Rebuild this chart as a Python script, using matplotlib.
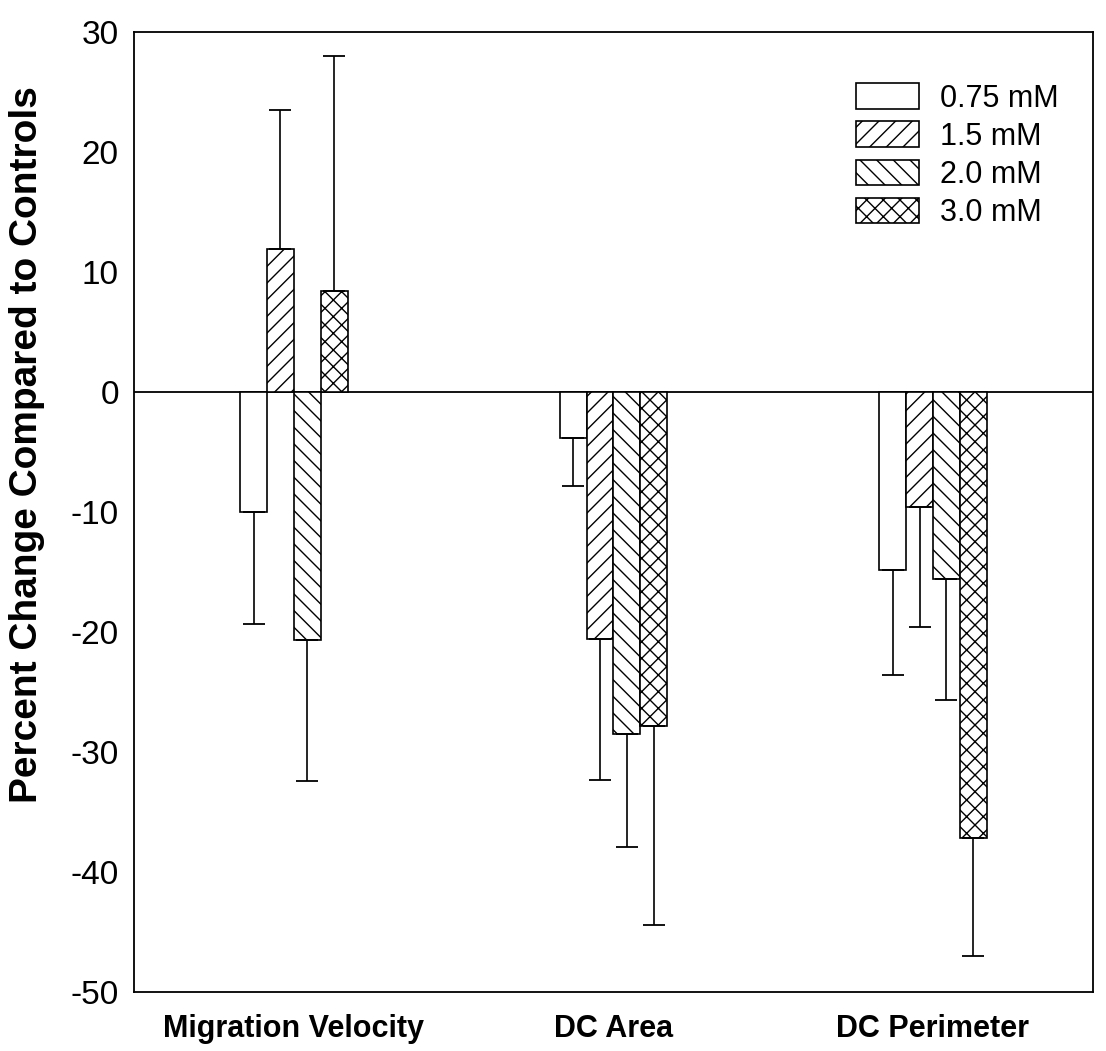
import numpy as np
import matplotlib
matplotlib.use('Agg')
import matplotlib.pyplot as plt

plt.rcParams['font.family'] = ['Liberation Sans', 'DejaVu Sans']
plt.rcParams['axes.unicode_minus'] = False
plt.rcParams['hatch.linewidth'] = 1.0

groups = ['Migration Velocity', 'DC Area', 'DC Perimeter']
doses = ['0.75 mM', '1.5 mM', '2.0 mM', '3.0 mM']
hatches = ['', '//', '\\\\', 'xx']

# mittelwerte je dosis (prozent gegenueber kontrolle)
v075 = [-10.0, -3.8, -14.8]
v15 = [11.9, -20.6, -9.6]
v20 = [-20.7, -28.5, -15.6]
v30 = [8.4, -27.8, -37.2]

# fehlerbalken (nur in richtung des balkens)
e075 = [9.3, 4.0, 8.8]
e15 = [11.6, 11.7, 10.0]
e20 = [11.7, 9.4, 10.1]
e30 = [19.6, 16.6, 9.8]

vals = [v075, v15, v20, v30]
errs = [e075, e15, e20, e30]

fig = plt.figure(figsize=(11.06, 10.51), dpi=100)
ax = fig.add_axes([0.1212, 0.0561, 0.988 - 0.1212, 0.9696 - 0.0561])

x = np.arange(len(groups))
w = 0.084
for i in range(4):
    pos = x + (i - 1.5) * w
    v = np.array(vals[i])
    e = np.array(errs[i])
    ax.bar(pos, v, w, color='white', edgecolor='black', linewidth=1.2,
           hatch=hatches[i], label=doses[i], zorder=2)
    lo = np.where(v < 0, e, 0)
    hi = np.where(v >= 0, e, 0)
    ax.errorbar(pos, v, yerr=[lo, hi], fmt='none', ecolor='black',
                elinewidth=1.2, capsize=8, capthick=1.3, zorder=3)

ax.axhline(0, color='black', linewidth=1.3, zorder=1)

ax.set_xlim(-0.5, 2.5)
ax.set_ylim(-50, 30)
ax.set_yticks(range(-50, 31, 10))
ax.set_xticks(x)
ax.set_xticklabels(groups, fontsize=22, fontweight='bold')
ax.tick_params(axis='y', labelsize=24, length=0, pad=11)
ax.tick_params(axis='x', length=0, pad=16)
ax.set_ylabel('Percent Change Compared to Controls', fontsize=28,
              fontweight='bold')
ax.yaxis.set_label_coords(-0.093, 0.57)
for s in ax.spines.values():
    s.set_linewidth(1.3)

ax.legend(loc='upper right', bbox_to_anchor=(0.993, 0.975), frameon=False,
          fontsize=22, handlelength=2.05, handleheight=0.92,
          handletextpad=0.7, labelspacing=0.25)

plt.savefig('out.png', dpi=100)
